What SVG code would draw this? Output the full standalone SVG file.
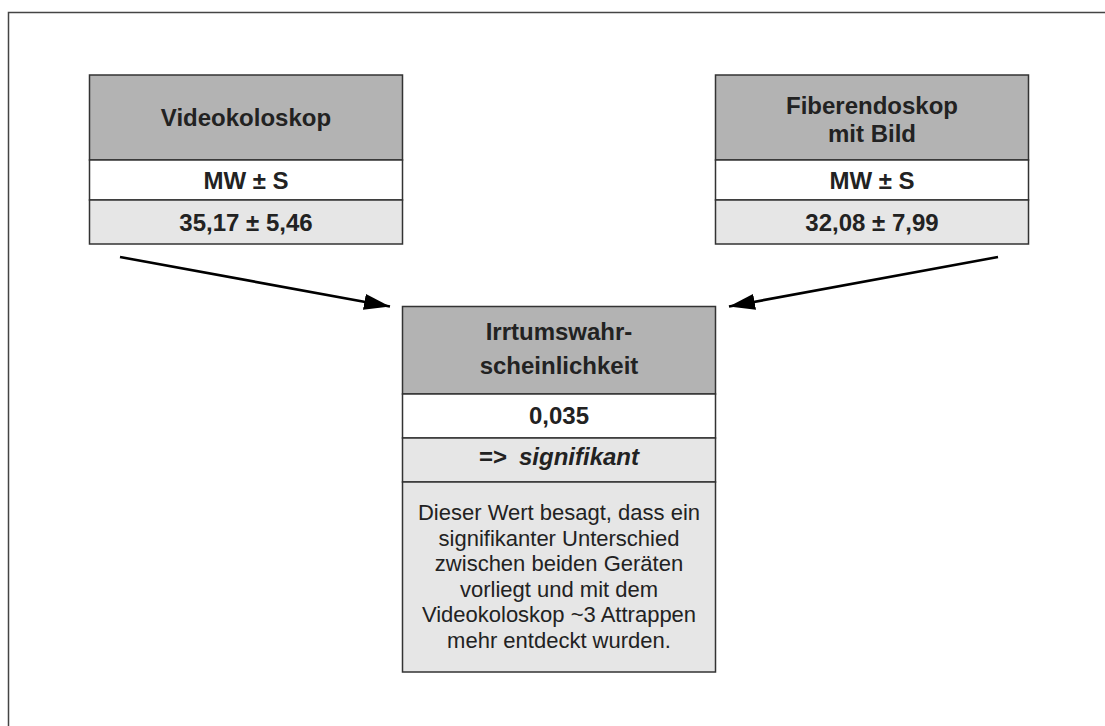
<svg xmlns="http://www.w3.org/2000/svg" width="1105" height="726" viewBox="0 0 1105 726">
<style>
.hdr{fill:#b3b3b3;stroke:#333;stroke-width:1.5}
.wht{fill:#ffffff;stroke:#333;stroke-width:1.5}
.lgt{fill:#e6e6e6;stroke:#333;stroke-width:1.5}
.b{font-family:"Liberation Sans",Arial,sans-serif;font-weight:bold;font-size:24px;fill:#222;text-anchor:middle}
.r{font-family:"Liberation Sans",Arial,sans-serif;font-size:22px;fill:#222;text-anchor:middle}
.conn{stroke:#000;stroke-width:2.6;fill:none}
</style>
<defs>
<marker id="ah" markerUnits="userSpaceOnUse" markerWidth="26" markerHeight="16" refX="26" refY="8" orient="auto">
<path d="M0,0 L26,8 L0,16 z" fill="#000"/>
</marker>
</defs>
<path d="M8.5,726 V12.5 H1105" fill="none" stroke="#444" stroke-width="1.5"/>
<g id="connectors">
<line class="conn" x1="120" y1="257" x2="390" y2="306.5" marker-end="url(#ah)"/>
<line class="conn" x1="998" y1="257" x2="729" y2="306.5" marker-end="url(#ah)"/>
</g>
<g id="videokoloskop">
<rect class="hdr" x="89.5" y="75" width="313" height="85"/>
<rect class="wht" x="89.5" y="160" width="313" height="40"/>
<rect class="lgt" x="89.5" y="200" width="313" height="44"/>
<text class="b" x="246" y="126">Videokoloskop</text>
<text class="b" x="246" y="188.5">MW ± S</text>
<text class="b" x="246" y="230.5">35,17 ± 5,46</text>
</g>
<g id="fiberendoskop">
<rect class="hdr" x="715.5" y="75" width="313" height="85"/>
<rect class="wht" x="715.5" y="160" width="313" height="40"/>
<rect class="lgt" x="715.5" y="200" width="313" height="44"/>
<text class="b" x="872" y="113.5">Fiberendoskop</text>
<text class="b" x="872" y="142">mit Bild</text>
<text class="b" x="872" y="188.5">MW ± S</text>
<text class="b" x="872" y="230.5">32,08 ± 7,99</text>
</g>
<g id="irrtum">
<rect class="hdr" x="402.5" y="306.5" width="313" height="87.5"/>
<rect class="wht" x="402.5" y="394" width="313" height="44"/>
<rect class="lgt" x="402.5" y="438" width="313" height="44"/>
<rect class="lgt" x="402.5" y="482" width="313" height="190"/>
<text class="b" x="559" y="340">Irrtumswahr-</text>
<text class="b" x="559" y="373.5">scheinlichkeit</text>
<text class="b" x="559" y="423.5">0,035</text>
<text class="b" x="559" y="465">=&gt;<tspan dx="12" font-style="italic">signifikant</tspan></text>
<text class="r" x="559" y="520">Dieser Wert besagt, dass ein</text>
<text class="r" x="559" y="545.6">signifikanter Unterschied</text>
<text class="r" x="559" y="571.2">zwischen beiden Geräten</text>
<text class="r" x="559" y="596.8">vorliegt und mit dem</text>
<text class="r" x="559" y="622.4">Videokoloskop ~3 Attrappen</text>
<text class="r" x="559" y="648">mehr entdeckt wurden.</text>
</g>
</svg>
